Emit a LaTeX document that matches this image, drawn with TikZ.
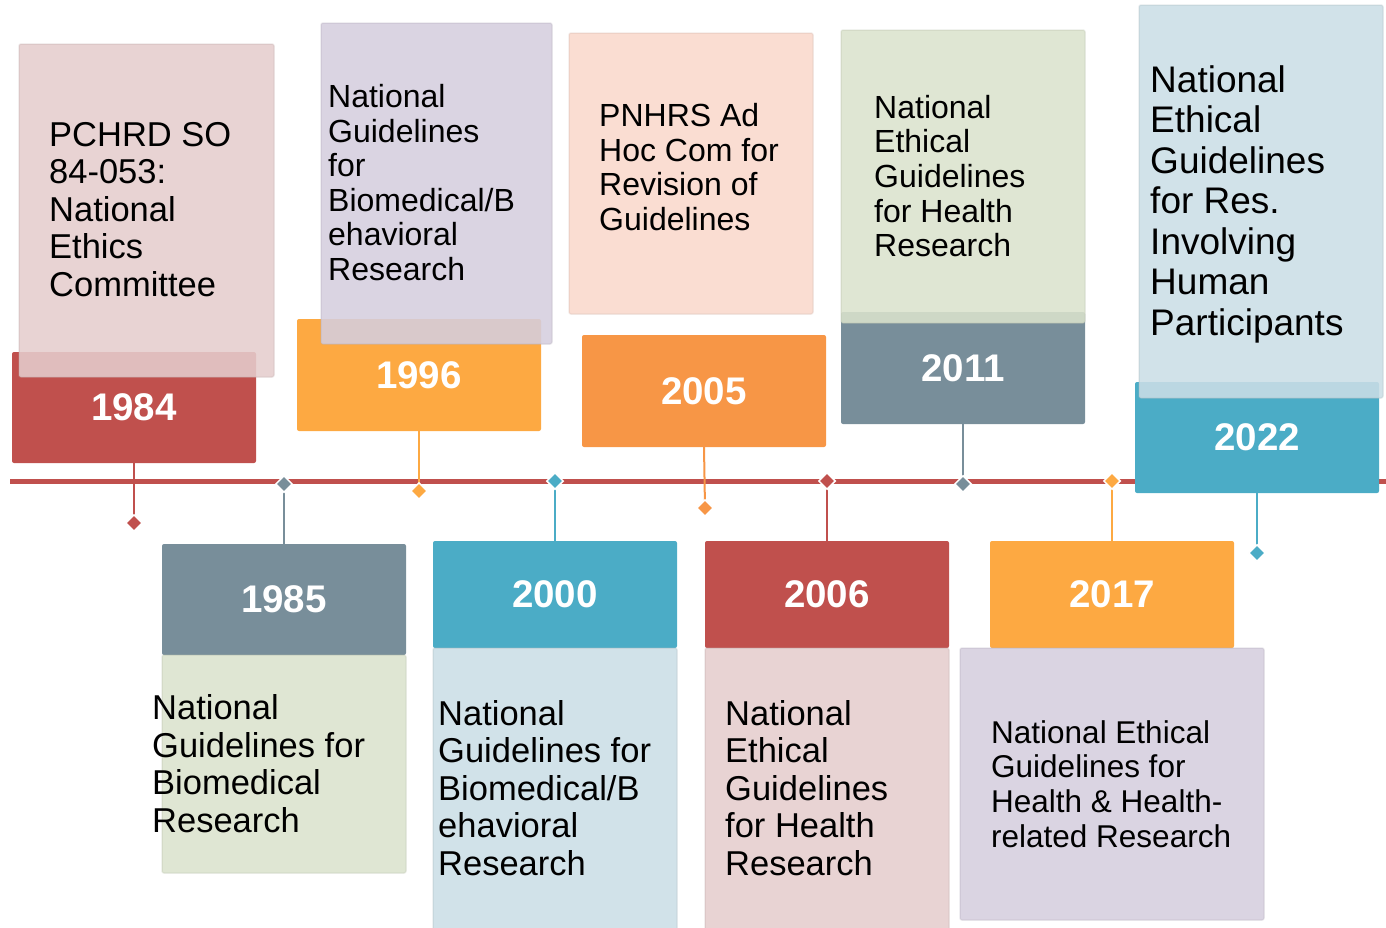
\documentclass[tikz,border=0pt]{standalone}
\usepackage{fontspec}
\setmainfont{Liberation Sans}
\usetikzlibrary{shapes.geometric}

\definecolor{tlred}{HTML}{C0504D}
\definecolor{tlorange}{HTML}{FDA942}
\definecolor{tldeeporange}{HTML}{F79646}
\definecolor{tlslate}{HTML}{788E9A}
\definecolor{tlteal}{HTML}{4BACC6}
\definecolor{notepink}{HTML}{E5CDCD}
\definecolor{notelilac}{HTML}{D5CEDE}
\definecolor{notepeach}{HTML}{F9D8CC}
\definecolor{notegreen}{HTML}{DBE3CD}
\definecolor{noteblue}{HTML}{CBDEE6}

\pgfdeclarelayer{under}
\pgfsetlayers{under,main}

\tikzset{
  yearbox/.style={rectangle, rounded corners=2pt, inner sep=0pt,
    minimum width=244pt, text=white,
    font=\bfseries\fontsize{38.5}{40}\selectfont},
  notebox/.style={rectangle, rounded corners=2pt, inner sep=0pt,
    fill opacity=0.88, draw opacity=0.3, line width=1.5pt},
  notetext/.style={inner sep=0pt, anchor=west, align=left, text=black},
  bigtext/.style={font=\fontsize{34.5}{37.5}\selectfont},
  midtext/.style={font=\fontsize{32}{34.6}\selectfont},
  smalltext/.style={font=\fontsize{31.5}{34.7}\selectfont},
  hugetext/.style={font=\fontsize{37}{40.5}\selectfont},
  marker/.style={diamond, aspect=1, inner sep=0pt, minimum size=17pt,
    draw=white, line width=1.5pt},
  stem/.style={line width=2pt},
  axis/.style={line width=5pt, tlred}
}

\begin{document}
\begin{tikzpicture}[x=1pt,y=-1pt]
\useasboundingbox (0,0) rectangle (1386,927);

% ---- year boxes ----
\node[yearbox, fill=tlred,        minimum height=111pt] (y1984) at (134,407.5) {1984};
\node[yearbox, fill=tlorange,     minimum height=112pt] (y1996) at (419,375)   {1996};
\node[yearbox, fill=tldeeporange, minimum height=112pt] (y2005) at (704,391)   {2005};
\node[yearbox, fill=tlslate,      minimum height=112pt] (y2011) at (963,368)   {2011};
\node[yearbox, fill=tlteal,       minimum height=111pt] (y2022) at (1257,437.5) {2022};
\node[yearbox, fill=tlslate,      minimum height=111pt] (y1985) at (284,599.5) {1985};
\node[yearbox, fill=tlteal,       minimum height=107pt] (y2000) at (555,594.5) {2000};
\node[yearbox, fill=tlred,        minimum height=107pt] (y2006) at (827,594.5) {2006};
\node[yearbox, fill=tlorange,     minimum height=107pt] (y2017) at (1112,594.5) {2017};

% ---- description panels ----
\node[notebox, fill=notepink,  draw=notepink!85!black,  minimum width=255pt, minimum height=333pt] (p1984) at (146.5,210.5) {};
\node[notebox, fill=notelilac, draw=notelilac!85!black, minimum width=231pt, minimum height=321pt] (p1996) at (436.5,183.5) {};
\node[notebox, fill=notepeach, draw=notepeach!85!black, minimum width=244pt, minimum height=281pt] (p2005) at (691,173.5) {};
\node[notebox, fill=notegreen, draw=notegreen!85!black, minimum width=244pt, minimum height=293pt] (p2011) at (963,176.5) {};
\node[notebox, fill=noteblue,  draw=noteblue!85!black,  minimum width=244pt, minimum height=393pt] (p2022) at (1261,201.5) {};
\node[notebox, fill=notegreen, draw=notegreen!85!black, minimum width=244pt, minimum height=218pt] (p1985) at (284,764) {};
\node[notebox, fill=noteblue,  draw=noteblue!85!black,  minimum width=244pt, minimum height=284pt] (p2000) at (555,790) {};
\node[notebox, fill=notepink,  draw=notepink!85!black,  minimum width=244pt, minimum height=284pt] (p2006) at (827,790) {};
\node[notebox, fill=notelilac, draw=notelilac!85!black, minimum width=304pt, minimum height=272pt] (p2017) at (1112,784) {};

% ---- description texts ----
\node[notetext, bigtext]   (t1984) at (49,209.5)  {PCHRD SO\\84-053:\\National\\Ethics\\Committee};
\node[notetext, midtext]   (t1996) at (328,182.5) {National\\Guidelines\\for\\Biomedical/B\\ehavioral\\Research};
\node[notetext, midtext]   (t2005) at (599,167)   {PNHRS Ad\\Hoc Com for\\Revision of\\Guidelines};
\node[notetext, midtext]   (t2011) at (874,176)   {National\\Ethical\\Guidelines\\for Health\\Research};
\node[notetext, hugetext]  (t2022) at (1150,204)  {National\\Ethical\\Guidelines\\for Res.\\Involving\\Human\\Participants};
\node[notetext, bigtext]   (t1985) at (152,763.5) {National\\Guidelines for\\Biomedical\\Research};
\node[notetext, bigtext]   (t2000) at (438,788)   {National\\Guidelines for\\Biomedical/B\\ehavioral\\Research};
\node[notetext, bigtext]   (t2006) at (725,788)   {National\\Ethical\\Guidelines\\for Health\\Research};
\node[notetext, smalltext] (t2017) at (991,784)   {National Ethical\\Guidelines for\\Health \& Health-\\related Research};

% ---- markers ----
\node[marker, fill=tlred]        (d1984) at (134,523)  {};
\node[marker, fill=tlslate]      (d1985) at (284,484)  {};
\node[marker, fill=tlorange]     (d1996) at (419,491)  {};
\node[marker, fill=tlteal]       (d2000) at (555,481)  {};
\node[marker, fill=tldeeporange] (d2005) at (705,508)  {};
\node[marker, fill=tlred]        (d2006) at (827,481)  {};
\node[marker, fill=tlslate]      (d2011) at (963,484)  {};
\node[marker, fill=tlorange]     (d2017) at (1112,481) {};
\node[marker, fill=tlteal]       (d2022) at (1257,553) {};

% ---- timeline axis and stems ----
\coordinate (axisstart) at (10,481);
\coordinate (axisend) at (1386,481);
\begin{pgfonlayer}{under}
  \draw[axis] (axisstart) -- (axisend);
  \draw[stem, tlred]        (y1984.south) -- (d1984.center);
  \draw[stem, tlslate]      (d1985.center) -- (y1985.north);
  \draw[stem, tlorange]     (y1996.south) -- (d1996.center);
  \draw[stem, tlteal]       (d2000.center) -- (y2000.north);
  \draw[stem, tldeeporange] (y2005.south) -- (d2005.center);
  \draw[stem, tlred]        (d2006.center) -- (y2006.north);
  \draw[stem, tlslate]      (y2011.south) -- (d2011.center);
  \draw[stem, tlorange]     (d2017.center) -- (y2017.north);
  \draw[stem, tlteal]       (y2022.south) -- (d2022.center);
\end{pgfonlayer}
\end{tikzpicture}
\end{document}
